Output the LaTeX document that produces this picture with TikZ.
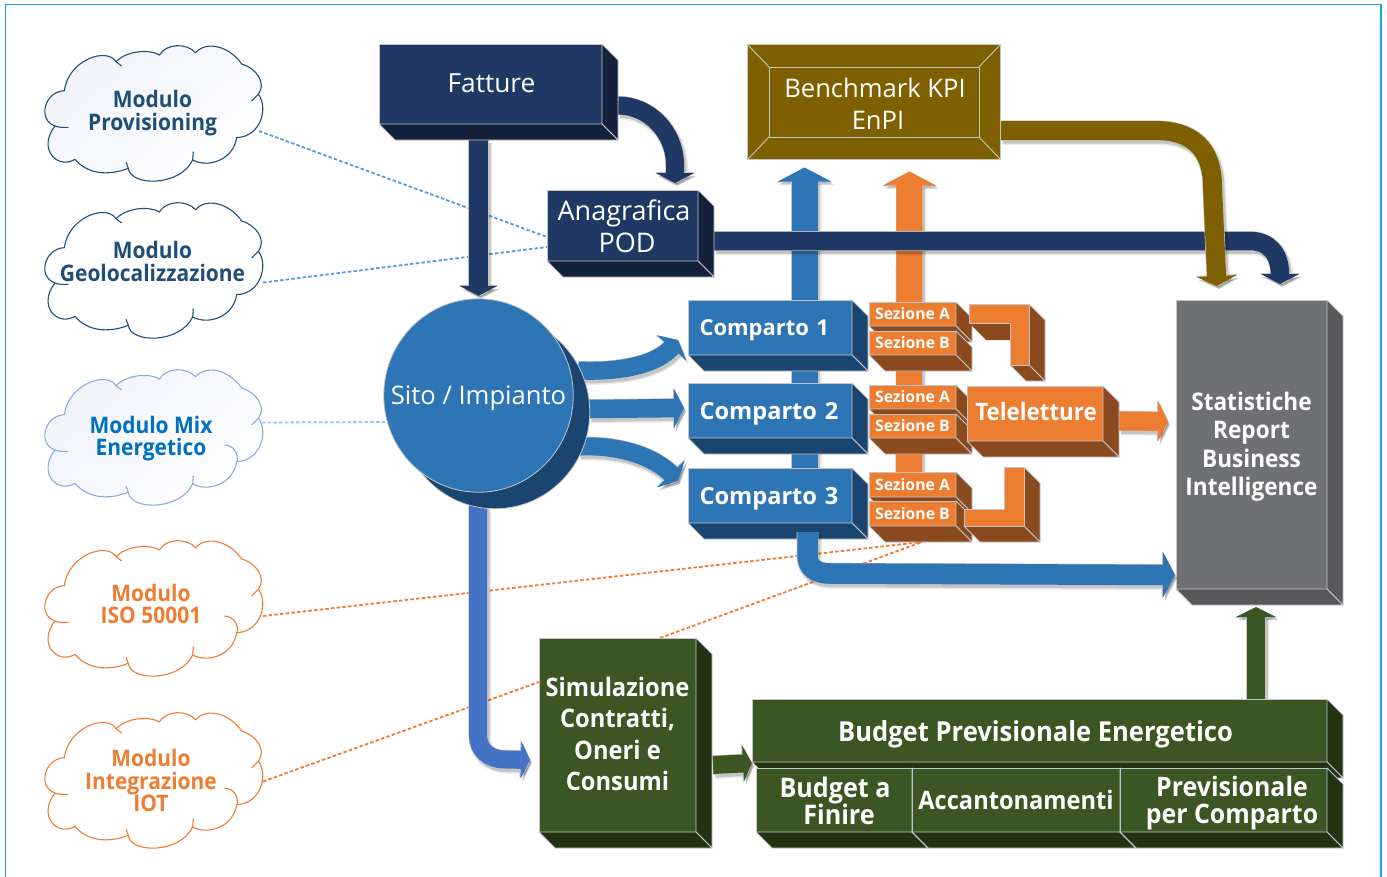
\documentclass[tikz,border=0pt]{standalone}
\usepackage{fontspec}
\setmainfont{Open Sans}
\newfontfamily\cfont[FakeStretch=.92]{Open Sans}
\newfontfamily\semibase[FakeStretch=.93]{Open Sans}
\newcommand\semifont{\semibase\bfseries}
\usetikzlibrary{arrows.meta,calc,shapes.geometric}
\definecolor{navy}{HTML}{1F3864}\definecolor{navyS}{HTML}{14213D}
\definecolor{cblue}{HTML}{2E75B6}\definecolor{cblueS}{HTML}{1A4570}
\definecolor{corange}{HTML}{ED7D31}\definecolor{corangeS}{HTML}{8B4A1E}
\definecolor{cgreen}{HTML}{3B5623}\definecolor{cgreenS}{HTML}{223314}
\definecolor{cgold}{HTML}{7F6000}
\definecolor{cgrey}{HTML}{6F7073}\definecolor{cgreyS}{HTML}{58585A}
\definecolor{peri}{HTML}{4472C4}
\definecolor{framec}{HTML}{1AA3DC}
\definecolor{edgec}{HTML}{C4C5C9}
\definecolor{cloudA}{HTML}{1F4E79}\definecolor{cloudB}{HTML}{8FAADC}
\definecolor{textB}{HTML}{0070C0}\definecolor{tint}{HTML}{F1F3FA}
\definecolor{dashA}{HTML}{5B9BD5}\definecolor{dashB}{HTML}{9DC3E6}
\pgfdeclarelayer{back}\pgfsetlayers{back,main}
\tikzset{
 box3/.style={draw=edgec,line width=.9pt,inner sep=0pt,outer sep=0pt},
 boxtext/.style={text=white,inner sep=0pt,outer sep=0pt,align=center},
 face/.style={draw=edgec,line width=.9pt,line join=round},
 cloudtext/.style={inner sep=0pt,align=center,font=\cfont\bfseries\fontsize{22.8}{22.8}\selectfont},
 linkdash/.style={line width=1.8pt,dash pattern=on 3.5pt off 2.2pt},
 compfont/.style={text width=141pt,align=left,font=\bfseries\fontsize{#1}{26}\selectfont,yshift=-3pt},
 sezfont/.style={font=\bfseries\fontsize{15.8}{16}\selectfont},
}
\newcommand\fsz[2]{\fontsize{#1}{#2}\selectfont}
% name,x1,y1,x2,y2,front,side,text options,text
\newcommand\threed[9]{%
 \pgfmathsetmacro\bw{#4-#2}\pgfmathsetmacro\bh{#5-#3}%
 \pgfmathsetmacro\cx{(#2+#4)/2}\pgfmathsetmacro\cy{(#3+#5)/2}%
 \node[box3,fill=#6,minimum width=\bw pt,minimum height=\bh pt] (#1) at (\cx,\cy) {};
 \path[face,fill=#7] (#1.north east) -- ++(16,16) -- ++(0,\bh) -- (#1.south east) -- cycle;
 \path[face,fill=#7] (#1.south west) -- ++(16,16) -- ++(\bw,0) -- (#1.south east) -- cycle;
 \node[boxtext,#8] (#1t) at (\cx,\cy) {#9};
}
% colour,width,head length,head width,path
\newcommand\fatarrow[5]{%
 \pgfmathsetmacro\lwa{#2+1.2}\pgfmathsetmacro\lwb{#2+4}\pgfmathsetmacro\lwc{#2+1}%
 \pgfmathsetmacro\hwa{#4+1.6}\pgfmathsetmacro\hla{#3+1}%
 \begin{scope}[transform canvas={shift={(2pt,-3pt)}}]
  \draw[black,opacity=.08,line width=\lwb pt,-{Triangle[length=#3pt,width=#4pt]}] #5;
  \draw[black,opacity=.16,line width=\lwc pt,-{Triangle[length=#3pt,width=#4pt]}] #5;
 \end{scope}
 \draw[edgec,line width=\lwa pt,-{Triangle[length=\hla pt,width=\hwa pt]}] #5;
 \draw[#1,line width=#2 pt,-{Triangle[length=#3pt,width=#4pt]}] #5;
}
\newcommand\cloudoutline{(193,272) .. controls (205,180) and (320,140) .. (348,185)
 .. controls (385,148) and (455,149) .. (478,165)
 .. controls (500,129) and (560,129) .. (587,158)
 .. controls (620,120) and (690,140) .. (725,192)
 .. controls (770,205) and (800,250) .. (775,283)
 .. controls (805,320) and (785,410) .. (710,413)
 .. controls (700,480) and (625,505) .. (578,480)
 .. controls (540,560) and (392,560) .. (385,505)
 .. controls (320,530) and (260,520) .. (225,478)
 .. controls (170,510) and (112,445) .. (165,378)
 .. controls (112,360) and (132,275) .. (193,272) -- cycle}
\newcommand\cloudhooks{(348,185) -- (365,198) (775,283) -- (755,303)
 (165,378) .. controls (175,382) and (190,383) .. (205,382)
 (578,480) -- (580,455) (385,505) -- (378,487)}
\begin{document}
\begin{tikzpicture}[x=1pt,y=-1pt]
\useasboundingbox (0,0) rectangle (1387,876);

% clouds
\begin{scope}[x=.33333pt,y=-.33333pt]
 \shadedraw[draw=cloudA,line width=1.1pt,left color=tint,right color=white,shading angle=40] \cloudoutline;
 \draw[cloudA,line width=1.1pt] \cloudhooks;
\end{scope}
\begin{scope}[shift={(0,157)},x=.33333pt,y=-.33333pt]
 \draw[cloudA,line width=1.1pt] \cloudoutline \cloudhooks;
\end{scope}
\begin{scope}[shift={(0,324)},x=.33333pt,y=-.33333pt]
 \shadedraw[draw=cloudB,line width=1.1pt,left color=tint,right color=white,shading angle=40] \cloudoutline;
 \draw[cloudB,line width=1.1pt] \cloudhooks (712,413) .. controls (715,385) and (700,365) .. (673,363);
\end{scope}
\begin{scope}[shift={(0,495)},x=.33333pt,y=-.33333pt]
 \draw[corange,line width=1.1pt] \cloudoutline \cloudhooks (712,413) .. controls (715,385) and (700,365) .. (673,363);
\end{scope}
\begin{scope}[shift={(0,667)},x=.33333pt,y=-.33333pt]
 \draw[corange,line width=1.1pt] \cloudoutline \cloudhooks (712,413) .. controls (715,385) and (700,365) .. (673,363);
\end{scope}
\node[cloudtext,text=cloudA] (c1) at (152.5,113) {Modulo\\Provisioning};
\node[cloudtext,text=cloudA] (c2) at (152.5,261.5) {Modulo\\Geolocalizzazione};
\node[cloudtext,text=textB] (c3) at (151,438.5) {Modulo Mix\\Energetico};
\node[cloudtext,text=corange] (c4) at (151,604) {Modulo\\ISO 50001};
\node[cloudtext,text=corange] (c5) at (151,780.5) {Modulo\\Integrazione\\IOT};

% boxes
\threed{fatture}{379}{44}{602}{124}{navy}{navyS}{font=\fsz{26.3}{32},xshift=1pt,yshift=1pt}{Fatture}
\threed{anag}{547}{190}{698}{261}{navy}{navyS}{font=\fsz{27}{32},xshift=1.5pt,yshift=-1pt}{Anagrafica\\\hspace*{6pt}POD}
\threed{comp1}{688}{300}{852}{355}{cblue}{cblueS}{compfont=22}{Comparto 1}
\threed{comp2}{688}{383}{852}{438}{cblue}{cblueS}{compfont=23.6}{Comparto 2}
\threed{comp3}{688}{468}{852}{523}{cblue}{cblueS}{compfont=23.6}{Comparto 3}
\threed{sa1}{869}{302}{956}{326}{corange}{corangeS}{sezfont}{Sezione A}
\threed{sb1}{869}{331}{956}{355}{corange}{corangeS}{sezfont}{Sezione B}
\threed{sa2}{869}{385}{956}{409}{corange}{corangeS}{sezfont}{Sezione A}
\threed{sb2}{869}{414}{956}{438}{corange}{corangeS}{sezfont}{Sezione B}
\threed{sa3}{869}{472}{956}{497}{corange}{corangeS}{sezfont}{Sezione A}
\threed{sb3}{869}{501}{956}{526}{corange}{corangeS}{sezfont}{Sezione B}
\threed{tele}{967}{386}{1103}{441}{corange}{corangeS}{font=\semifont\fsz{24}{28},xshift=1pt,yshift=2pt}{Teleletture}
% bent orange pieces
\path[face,fill=corangeS] (1029,304) -- (1045,320) -- (1045,381) -- (1029,365) -- cycle;
\path[face,fill=corangeS] (1010,365) -- (1026,381) -- (1045,381) -- (1029,365) -- cycle;
\path[fill=corangeS] (969,323) -- (986,340) -- (1010,340) -- (1010,323) -- cycle;
\path[face,fill=corange] (969,304) -- (1029,304) -- (1029,365) -- (1010,365) -- (1010,323) -- (969,323) -- cycle;
\path[face,fill=corangeS] (1024,467) -- (1040,483) -- (1040,542) -- (1024,526) -- cycle;
\path[face,fill=corangeS] (964,526) -- (980,542) -- (1040,542) -- (1024,526) -- cycle;
\path[face,fill=corange] (1004,467) -- (1024,467) -- (1024,526) -- (964,526) -- (964,509) -- (1004,509) -- cycle;

\threed{stat}{1176}{300}{1327}{589}{cgrey}{cgreyS}{font=\semifont\fsz{24.3}{28.4},yshift=-2pt}{Statistiche\\Report\\Business\\Intelligence}
\threed{sim}{539}{638}{696}{832}{cgreen}{cgreenS}{font=\semifont\fsz{25.5}{31.6},yshift=1pt}{Simulazione\\Contratti,\\Oneri e\\Consumi}
\threed{budget}{752}{699}{1327}{762}{cgreen}{cgreenS}{font=\semifont\fsz{27.5}{30},xshift=-4pt,yshift=-4pt}{Budget Previsionale Energetico}
\threed{finire}{756}{768}{912}{832}{cgreen}{cgreenS}{font=\semifont\fsz{27}{27},xshift=1pt,yshift=-1pt}{Budget a\\\hspace*{8pt}Finire}
\threed{accant}{912}{768}{1120}{832}{cgreen}{cgreenS}{font=\semifont\fsz{25.4}{27}}{Accantonamenti}
\threed{prev}{1120}{768}{1327}{832}{cgreen}{cgreenS}{font=\semifont\fsz{26.8}{27},xshift=8.5pt,yshift=-3pt}{Previsionale\\per Comparto}
\draw[edgec,line width=.9pt] (finire.south east) -- ++(16,16) (accant.south east) -- ++(16,16);

% benchmark
\node[box3,fill=cgold,minimum width=253pt,minimum height=115pt] (bench) at (874,102) {};
\node[box3,fill=cgold,minimum width=210pt,minimum height=70pt] (benchin) at (874,102) {};
\node[boxtext,font=\fsz{25.6}{31.5},xshift=1pt,yshift=-2pt] (benchtext) at (874,102) {Benchmark KPI\\\hspace*{6pt}EnPI};
\draw[edgec,line width=.9pt] (bench.north west) -- (benchin.north west) (bench.north east) -- (benchin.north east)
 (bench.south west) -- (benchin.south west) (bench.south east) -- (benchin.south east);

% site
\node[ellipse,fill=cblueS,draw=edgec,line width=.8pt,minimum width=189.5pt,minimum height=193.5pt,inner sep=0pt,outer sep=0pt] (sitoback) at (495,412) {};
\node[ellipse,fill=cblue,draw=edgec,line width=.8pt,minimum width=189.5pt,minimum height=193.5pt,inner sep=0pt,outer sep=0pt] (sito) at (478.5,395.5) {};
\node[boxtext,font=\fsz{25.6}{30},yshift=-3pt] (sitotext) at (sito.center) {Sito / Impianto};

\begin{pgfonlayer}{back}
 \fill[white] (0,0) rectangle (1387,876);
 % frame
 \draw[framec,line width=1.4pt] (5.5,877) -- (5.5,4.5) -- (1381,4.5) -- (1381,877);
 % dotted links
 \draw[dashA,linkdash] ($(c1)+(106.5,18)$) -- ($(anag.west)+(0,11.5)$);
 \draw[dashA,linkdash] ($(c2)+(110.5,21)$) -- ($(anag.west)+(0,21.5)$);
 \draw[dashB,linkdash] ($(c3)+(111,-16)$) -- ($(sito.center)+(-92,26.5)$);
 \draw[corange,linkdash] ($(c4)+(112,12)$) -- ($(sb3.south)+(9.5,16)$);
 \draw[corange,linkdash] ($(sim.north west)+(121,0)$) -- ($(sb3.south)+(9.5,16)$);
 \draw[corange,linkdash] ($(c5)+(112,1)$) -- ($(sim.north west)+(0,44)$);
 % up arrows
 \fatarrow{cblue}{26}{14}{53}{($(comp3.north west)+(116.5,1)$) -- ($(bench.south west)+(57,8)$)}
 \fatarrow{corange}{26}{14}{53}{($(sa3.north west)+(40,1)$) -- ($(bench.south west)+(162,12)$)}
 % navy
 \fatarrow{navy}{18.5}{10}{38}{($(anag.north east)+(16,51)$) -- ($(anag.north east)+(552,51)$) .. controls ($(anag.north east)+(570,51)$) and ($(stat.north west)+(104,-47)$) .. ($(stat.north west)+(104,-16)$)}
 \fatarrow{navy}{18}{10}{38}{($(fatture.north east)+(16,61.5)$) .. controls ($(fatture.north east)+(47,61.5)$) and ($(anag.north west)+(128,-58)$) .. ($(anag.north west)+(128,-25)$) -- ($(anag.north west)+(128,-7)$)}
 \fatarrow{navy}{19}{10}{38}{($(fatture.south west)+(99.5,16)$) -- ($(sito.north)+(0,-3)$)}
 % gold
 \fatarrow{cgold}{19}{10}{40}{($(bench.east)+(0,28.5)$) -- ($(bench.east)+(155,28.5)$) .. controls ($(bench.east)+(190,28.5)$) and ($(bench.east)+(212,45)$) .. ($(bench.east)+(212,85)$) -- ($(stat.north west)+(41,-14)$)}
 % site to compartments
 \fatarrow{cblue}{18}{10}{38}{($(sito.east)+(5,-25)$) .. controls ($(sito.east)+(50,-23)$) and ($(comp1.west)+(-30,36)$) .. ($(comp1.west)+(-10,12.5)$)}
 \fatarrow{cblue}{18.5}{10}{39}{($(sito.east)+(16,13.5)$) -- ($(comp2.west)+(-4,-2.5)$)}
 \fatarrow{cblue}{18}{10}{38}{($(sito.east)+(5,51)$) .. controls ($(sito.east)+(50,49)$) and ($(comp3.west)+(-32,-37)$) .. ($(comp3.west)+(-10,-14.5)$)}
 % site to simulation
 \fatarrow{peri}{18}{9}{37}{($(sitoback.south)+(-17,-4)$) -- ($(sim.north west)+(-61,97)$) .. controls ($(sim.north west)+(-61,112)$) and ($(sim.north west)+(-50,121.5)$) .. ($(sim.north west)+(-34,121.5)$) -- ($(sim.north west)+(-9,122)$)}
 % others
 \fatarrow{corange}{19}{10}{40}{($(tele.east)+(16,7.5)$) -- ($(stat.west)+(-8,-23)$)}
 \fatarrow{cgreen}{18}{9}{36}{($(sim.east)+(17,30)$) -- ($(budget.south west)+(0,1)$)}
 \fatarrow{cgreen}{18}{10}{40}{($(budget.north west)+(504,1)$) -- ($(stat.south west)+(80,18)$)}
\end{pgfonlayer}
% compartment 3 to statistics, in front of the box
\fatarrow{cblue}{20.5}{12}{45}{($(comp3.south west)+(119.5,9)$) -- ($(comp3.south west)+(119.5,32)$) .. controls ($(comp3.south west)+(119.5,45)$) and ($(comp3.south west)+(128,50.5)$) .. ($(comp3.south west)+(142,50.5)$) -- ($(stat.south west)+(-1,-14)$)}
\end{tikzpicture}
\end{document}
